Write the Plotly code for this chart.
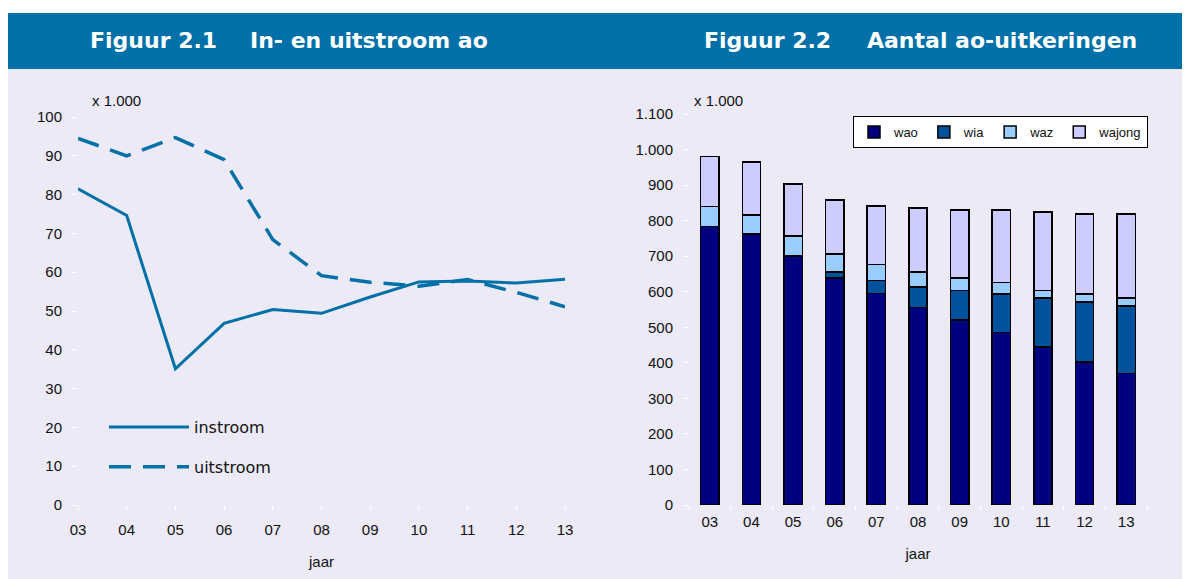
import plotly.graph_objects as go

# ---------------- data ----------------
years = ["03", "04", "05", "06", "07", "08", "09", "10", "11", "12", "13"]

instroom = [81.5, 74.6, 35.1, 46.8, 50.4, 49.4, 53.6, 57.5, 57.7, 57.2, 58.2]
uitstroom = [94.5, 90.0, 94.7, 89.0, 68.4, 59.1, 57.4, 56.4, 58.1, 54.8, 51.1]

wao = [784, 762, 701, 638, 595, 555, 521, 486, 444, 403, 370]
wia = [0, 0, 0, 18, 37, 59, 83, 108, 139, 168, 190]
waz = [56, 54, 56, 50, 45, 41, 34, 32, 20, 23, 23]
wajong = [140, 149, 146, 152, 164, 180, 192, 204, 221, 224, 235]

left_ticks = [0, 10, 20, 30, 40, 50, 60, 70, 80, 90, 100]
left_ticktext = ["0", "10", "20", "30", "40", "50", "60", "70", "80", "90", "100"]
right_ticks = [0, 100, 200, 300, 400, 500, 600, 700, 800, 900, 1000, 1100]
right_ticktext = ["0", "100", "200", "300", "400", "500", "600", "700", "800",
                  "900", "1.000", "1.100"]

title_left = ("Figuur 2.1", "In- en uitstroom ao")
title_right = ("Figuur 2.2", "Aantal ao-uitkeringen")

# ---------------- style ----------------
W, H = 1190, 579
OFF = 8  # page body margin
BLUE = "#0070A8"
LAV = "#ECEAF6"
FONT = "Liberation Sans"
TICKFONT = dict(family=FONT, size=15, color="#111111")


def px(x):
    return (x - OFF) / W


def py(y):
    return (H - (y - OFF)) / H


fig = go.Figure()

# left chart lines
fig.add_trace(go.Scatter(x=years, y=instroom, mode="lines", name="instroom",
                         line=dict(color=BLUE, width=3), xaxis="x", yaxis="y",
                         legend="legend", legendgroup="a"))
fig.add_trace(go.Scatter(x=years, y=uitstroom, mode="lines", name="uitstroom",
                         line=dict(color=BLUE, width=3.5, dash="22px,12px"),
                         xaxis="x", yaxis="y", legend="legend", legendgroup="b"))

# right chart bars
bar_cols = {"wao": "#000080", "wia": "#00529C", "waz": "#99CCFF", "wajong": "#CCCCFF"}
for name, vals in [("wao", wao), ("wia", wia), ("waz", waz), ("wajong", wajong)]:
    fig.add_trace(go.Bar(x=years, y=vals, name=name, marker=dict(
        color=bar_cols[name], line=dict(color="#000000", width=1.5)),
        width=0.44, xaxis="x2", yaxis="y2", legend="legend2"))

shapes = [
    dict(type="rect", xref="paper", yref="paper", x0=0, x1=1, y0=0, y1=py(69),
         fillcolor=LAV, line=dict(width=0), layer="below"),
    dict(type="rect", xref="paper", yref="paper", x0=0, x1=1, y0=py(69), y1=py(13),
         fillcolor=BLUE, line=dict(width=0), layer="below"),
]

TFONT = dict(family="DejaVu Sans", size=22, color="white")
annotations = [
    dict(text="<b>%s</b>" % title_left[0], x=px(88), y=py(41), xref="paper", yref="paper",
         xanchor="left", yanchor="middle", showarrow=False, font=TFONT),
    dict(text="<b>%s</b>" % title_left[1], x=px(248), y=py(41), xref="paper", yref="paper",
         xanchor="left", yanchor="middle", showarrow=False, font=TFONT),
    dict(text="<b>%s</b>" % title_right[0], x=px(702), y=py(41), xref="paper", yref="paper",
         xanchor="left", yanchor="middle", showarrow=False, font=TFONT),
    dict(text="<b>%s</b>" % title_right[1], x=px(865), y=py(41), xref="paper", yref="paper",
         xanchor="left", yanchor="middle", showarrow=False, font=TFONT),
    dict(text="x 1.000", x=px(90), y=py(100), xref="paper", yref="paper",
         xanchor="left", yanchor="middle", showarrow=False, font=TICKFONT),
    dict(text="x 1.000", x=px(692), y=py(100), xref="paper", yref="paper",
         xanchor="left", yanchor="middle", showarrow=False, font=TICKFONT),
]

axis_common = dict(showgrid=False, zeroline=False, showline=False, ticks="outside",
                   ticklen=5, tickfont=TICKFONT, fixedrange=True)

fig.update_layout(
    width=W, height=H, margin=dict(l=0, r=0, t=0, b=0, pad=0, autoexpand=False),
    paper_bgcolor="white", plot_bgcolor="white",
    barmode="stack", showlegend=True,
    shapes=shapes, annotations=annotations,
    xaxis=dict(domain=[px(78), px(565)], anchor="y", type="category",
               range=[0, 10], tickcolor="#FFFFFF", ticklabelstandoff=6,
               title=dict(text="jaar", font=TICKFONT, standoff=19), **axis_common),
    yaxis=dict(domain=[py(505), py(117)], anchor="x", range=[0, 100],
               tickvals=left_ticks, ticktext=left_ticktext, tickcolor="#FFFFFF",
               ticklabelstandoff=7, **axis_common),
    xaxis2=dict(domain=[px(689), px(1147)], anchor="y2", type="category",
                range=[-0.5, 10.5], tickson="boundaries", tickcolor="#FFFFFF",
                ticklabelstandoff=6,
                title=dict(text="jaar", font=TICKFONT, standoff=19), **axis_common),
    yaxis2=dict(domain=[py(505), py(114)], anchor="x2", range=[0, 1100],
                tickvals=right_ticks, ticktext=right_ticktext, tickcolor="#FFFFFF",
                ticklabelstandoff=7, **axis_common),
    legend=dict(x=px(104), y=py(410), xanchor="left", yanchor="top",
                bgcolor="rgba(0,0,0,0)", borderwidth=0, itemwidth=80,
                tracegroupgap=16, traceorder="grouped",
                font=dict(family="DejaVu Sans", size=16, color="#111111")),
    legend2=dict(x=px(1148), y=py(116), xanchor="right", yanchor="top",
                 orientation="h", bgcolor="white", bordercolor="#000000",
                 borderwidth=1, traceorder="normal",
                 font=dict(family="Liberation Sans", size=13, color="#111111")),
)

fig.write_html("out.html")
